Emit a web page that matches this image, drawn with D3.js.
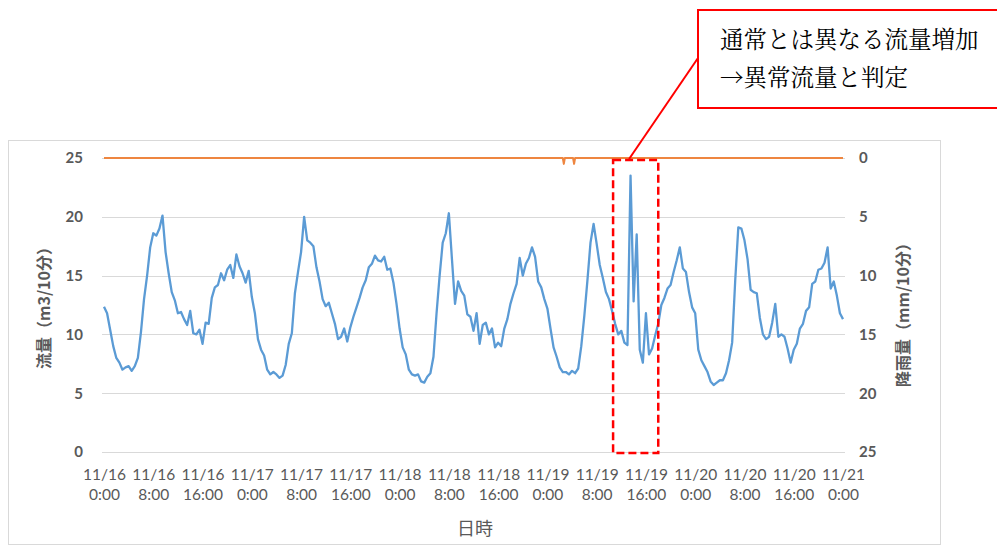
<!DOCTYPE html>
<html><head><meta charset="utf-8">
<script src="https://cdn.jsdelivr.net/npm/d3@7"></script>
<style>body{margin:0;background:#fff;}svg{display:block;}</style>
</head><body>
<svg id="chart" width="997" height="548"></svg>
<script>
// ---- data ----
const startTime = "11/16 0:00";
const endTime = "11/21 0:00";
const flowStepMinutes = 30;
// flow (m3/10分), one reading every 30 minutes from 11/16 0:00 to 11/21 0:00
const flow = [
 12.35, 11.8, 10.4, 9.0, 8.0, 7.6, 7.0, 7.2, 7.3, 6.9,
 7.3, 8.0, 10.2, 13.0, 15.0, 17.4, 18.6, 18.4, 19.0, 20.1,
 17.0, 15.2, 13.6, 12.9, 11.8, 11.9, 11.3, 10.8, 12.0, 10.1,
 10.0, 10.4, 9.2, 11.0, 10.9, 13.1, 14.0, 14.2, 15.2, 14.6,
 15.5, 15.9, 14.8, 16.8, 15.8, 15.2, 14.4, 15.4, 13.2, 11.8,
 9.6, 8.7, 8.2, 7.0, 6.6, 6.8, 6.6, 6.3, 6.5, 7.4,
 9.2, 10.1, 13.5, 15.3, 17.0, 20.0, 18.0, 17.8, 17.5, 15.7,
 14.5, 13.0, 12.4, 12.7, 11.8, 10.9, 9.6, 9.8, 10.5, 9.4,
 10.6, 11.5, 12.3, 13.1, 14.0, 14.6, 15.7, 16.0, 16.7, 16.3,
 16.2, 16.6, 15.5, 15.6, 14.4, 12.6, 10.5, 8.9, 8.3, 7.0,
 6.6, 6.5, 6.6, 6.0, 5.9, 6.4, 6.7, 8.1, 11.8, 15.0,
 17.8, 18.6, 20.3, 16.4, 12.6, 14.5, 13.7, 13.3, 11.7, 11.5,
 10.3, 11.8, 9.2, 10.8, 11.0, 10.0, 10.5, 8.9, 9.3, 9.0,
 10.5, 11.3, 12.6, 13.5, 14.3, 16.5, 15.0, 16.0, 16.5, 17.4,
 16.6, 14.5, 14.0, 13.0, 12.2, 10.5, 8.9, 8.1, 7.2, 6.8,
 6.8, 6.6, 6.9, 6.7, 7.1, 9.0, 11.6, 14.6, 17.8, 19.4,
 17.7, 15.9, 14.8, 13.6, 13.0, 12.0, 10.9, 10.0, 10.3, 9.3,
 9.1, 23.5, 12.8, 18.5, 8.7, 7.6, 11.8, 8.3, 8.8, 9.9,
 10.9, 12.5, 13.1, 13.9, 14.2, 15.3, 16.3, 17.4, 15.6, 15.3,
 13.6, 12.3, 11.8, 8.7, 7.8, 7.3, 6.8, 6.0, 5.7, 5.9,
 6.1, 6.1, 6.7, 7.8, 9.3, 14.6, 19.1, 19.0, 18.0, 16.4,
 13.8, 13.6, 13.5, 11.4, 10.0, 9.6, 9.8, 11.0, 12.6, 9.8,
 10.0, 9.8, 8.8, 7.6, 8.7, 9.2, 10.5, 10.9, 12.0, 12.3,
 14.3, 14.5, 15.5, 15.6, 16.1, 17.4, 13.9, 14.5, 13.3, 11.8,
 11.3
];
// rainfall (mm/10分): 10-minute readings, zero except these events
const rainStepMinutes = 10;
const rainEventTimes = ["11/19 2:40", "11/19 4:20"];
const rainEventValues = [0.5, 0.5];

const leftTicks = [0, 5, 10, 15, 20, 25];
const rightTicks = [0, 5, 10, 15, 20, 25];
const xTickTimes = ["11/16 0:00","11/16 8:00","11/16 16:00","11/17 0:00","11/17 8:00","11/17 16:00",
  "11/18 0:00","11/18 8:00","11/18 16:00","11/19 0:00","11/19 8:00","11/19 16:00",
  "11/20 0:00","11/20 8:00","11/20 16:00","11/21 0:00"];

const leftTitle = "流量（m3/10分）";
const rightTitle = "降雨量（mm/10分）";
const xTitle = "日時";
const noteLines = ["通常とは異なる流量増加", "→異常流量と判定"];
const anomalyStart = "11/19 10:40";
const anomalyEnd = "11/19 18:00";

// ---- build ----
const parse = d3.timeParse("%m/%d %H:%M");
const t0 = parse(startTime), t1 = parse(endTime);
const flowData = flow.map((v, i) => ({t: d3.timeMinute.offset(t0, i * flowStepMinutes), v}));
const rainMap = new Map(rainEventTimes.map((s, i) => [+parse(s), rainEventValues[i]]));
const rainData = d3.timeMinute.every(rainStepMinutes).range(t0, d3.timeMinute.offset(t1, 1))
  .map(t => ({t, v: rainMap.has(+t) ? rainMap.get(+t) : 0}));

const svg = d3.select("#chart");
const L = 104, R = 843, T = 158, B = 452;
const x = d3.scaleTime().domain([t0, t1]).range([L, R]);
const yL = d3.scaleLinear().domain([0, 25]).range([B, T]);
const yR = d3.scaleLinear().domain([0, 25]).range([T, B]);

const numFont = "Lato, 'Noto Sans', sans-serif";
const jpFont = "'Noto Sans CJK JP', 'Noto Sans', sans-serif";
const grey = "#595959";

// chart frame
svg.append("rect").attr("x", 8.5).attr("y", 140.5).attr("width", 932).attr("height", 404)
  .attr("fill", "#fff").attr("stroke", "#d9d9d9").attr("stroke-width", 1);

// gridlines
svg.append("g").selectAll("line").data(leftTicks).join("line")
  .attr("x1", L - 2).attr("x2", R + 2)
  .attr("y1", d => Math.round(yL(d)) + 0.5).attr("y2", d => Math.round(yL(d)) + 0.5)
  .attr("stroke", "#d9d9d9").attr("stroke-width", 1);

// left axis
const gl = svg.append("g").attr("transform", `translate(${L - 21},0)`)
  .call(d3.axisLeft(yL).tickValues(leftTicks).tickSize(0).tickPadding(0));
gl.select(".domain").remove();
gl.selectAll("text").attr("font-family", numFont).attr("font-size", 15).attr("font-weight", "bold")
  .attr("fill", grey);

// right axis
const gr = svg.append("g").attr("transform", `translate(${R + 16},0)`)
  .call(d3.axisRight(yR).tickValues(rightTicks).tickSize(0).tickPadding(0));
gr.select(".domain").remove();
gr.selectAll("text").attr("font-family", numFont).attr("font-size", 15).attr("font-weight", "bold")
  .attr("fill", grey);

// x axis (two-line labels)
const gx = svg.append("g").attr("transform", `translate(0,${B})`)
  .call(d3.axisBottom(x).tickValues(xTickTimes.map(parse)).tickSize(0).tickFormat(""));
gx.select(".domain").remove();
const fmtD = d3.timeFormat("%-m/%-d"), fmtH = d3.timeFormat("%-H:%M");
gx.selectAll(".tick").each(function(d) {
  const g = d3.select(this);
  g.select("text").remove();
  g.append("text").attr("y", 22).attr("text-anchor", "middle").attr("dominant-baseline", "central")
    .attr("font-family", numFont).attr("font-size", 15.5).attr("fill", grey).text(fmtD(d));
  g.append("text").attr("y", 42).attr("text-anchor", "middle").attr("dominant-baseline", "central")
    .attr("font-family", numFont).attr("font-size", 15.5).attr("fill", grey).text(fmtH(d));
});

// lines
svg.append("path").datum(flowData)
  .attr("d", d3.line().x(d => x(d.t)).y(d => yL(d.v)))
  .attr("fill", "none").attr("stroke", "#5B9BD5").attr("stroke-width", 2.3)
  .attr("stroke-linejoin", "round");
svg.append("path").datum(rainData)
  .attr("d", d3.line().x(d => x(d.t)).y(d => yR(d.v)))
  .attr("fill", "none").attr("stroke", "#EE8640").attr("stroke-width", 2)
  .attr("stroke-linejoin", "round");

// axis titles
svg.append("text").attr("transform", "translate(43,304) rotate(-90)")
  .attr("text-anchor", "middle").attr("dominant-baseline", "central")
  .attr("font-family", jpFont).attr("font-size", 16).attr("font-weight", "bold").attr("fill", grey)
  .text(leftTitle);
svg.append("text").attr("transform", "translate(902,311) rotate(-90)")
  .attr("text-anchor", "middle").attr("dominant-baseline", "central")
  .attr("font-family", jpFont).attr("font-size", 16).attr("font-weight", "bold").attr("fill", grey)
  .text(rightTitle);
svg.append("text").attr("x", 475).attr("y", 527)
  .attr("text-anchor", "middle").attr("dominant-baseline", "central")
  .attr("font-family", jpFont).attr("font-size", 18).attr("fill", grey)
  .text(xTitle);

// anomaly highlight
const ax0 = x(parse(anomalyStart)), ax1 = x(parse(anomalyEnd));
svg.append("rect").attr("x", ax0).attr("y", T + 2).attr("width", ax1 - ax0).attr("height", B - T - 1)
  .attr("fill", "none").attr("stroke", "#ff0000").attr("stroke-width", 2.5)
  .attr("stroke-dasharray", "8,4");

// callout
svg.append("line").attr("x1", 698).attr("y1", 58).attr("x2", ax0 + 16).attr("y2", T + 1)
  .attr("stroke", "#ff0000").attr("stroke-width", 2);
svg.append("rect").attr("x", 698).attr("y", 10).attr("width", 310).attr("height", 98)
  .attr("fill", "#fff").attr("stroke", "#ff0000").attr("stroke-width", 2);
svg.append("g").selectAll("text").data(noteLines).join("text")
  .attr("x", 720).attr("y", (d, i) => 38 + i * 38)
  .attr("dominant-baseline", "central")
  .attr("font-family", "'Noto Serif CJK JP', serif, 'Noto Sans CJK JP'")
  .attr("font-size", 23.5).attr("fill", "#000")
  .text(d => d);
</script>
</body></html>
